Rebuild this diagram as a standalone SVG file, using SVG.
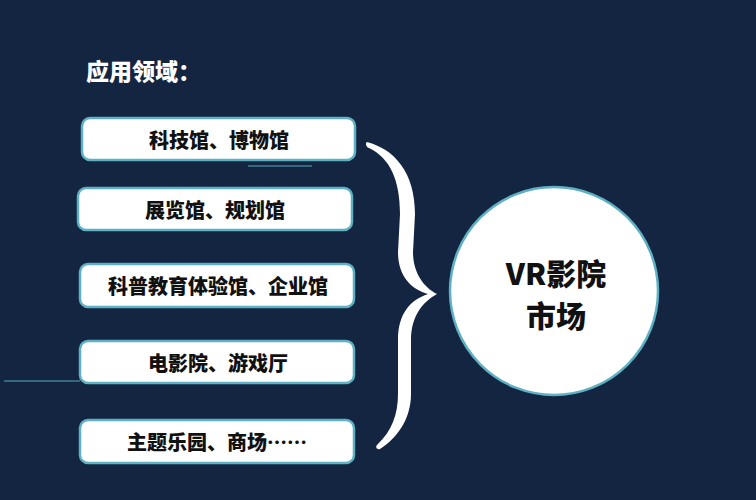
<svg xmlns="http://www.w3.org/2000/svg" width="756" height="500" viewBox="0 0 756 500">
  <style>
    .box { fill: #ffffff; stroke: #5eb0c3; stroke-width: 2.5; }
    .lbl { font-family: "Noto Sans CJK SC", "Liberation Sans", sans-serif; font-weight: 900; font-size: 20px; fill: #111111; text-anchor: middle; dominant-baseline: central; }
    .big { font-family: "Noto Sans CJK SC", "Liberation Sans", sans-serif; font-weight: 900; font-size: 30px; fill: #111111; text-anchor: middle; dominant-baseline: central; }
    .title { font-family: "Noto Sans CJK SC", "Liberation Sans", sans-serif; font-weight: 900; font-size: 23px; fill: #ffffff; dominant-baseline: central; }
    .faint { stroke: #3e7f96; stroke-width: 1.5; fill: none; }
  </style>
  <rect x="0" y="0" width="756" height="500" fill="#142541"/>

  <g id="title">
    <text class="title" x="86" y="70">应用领域：</text>
  </g>

  <g id="node1">
    <rect class="box" x="82" y="118" width="273" height="42" rx="8"/>
    <text class="lbl" x="219" y="139">科技馆、博物馆</text>
  </g>
  <g id="node2">
    <rect class="box" x="78" y="188" width="274" height="42" rx="8"/>
    <text class="lbl" x="215" y="209">展览馆、规划馆</text>
  </g>
  <g id="node3">
    <rect class="box" x="80" y="264" width="274" height="43" rx="8"/>
    <text class="lbl" x="218" y="285.5">科普教育体验馆、企业馆</text>
  </g>
  <g id="node4">
    <rect class="box" x="80" y="341" width="274" height="42" rx="8"/>
    <text class="lbl" x="218" y="362">电影院、游戏厅</text>
  </g>
  <g id="node5">
    <rect class="box" x="80" y="420" width="274" height="43" rx="8"/>
    <text class="lbl" x="217" y="441.5">主题乐园、商场……</text>
  </g>

  <g id="connectors">
    <line class="faint" x1="248" y1="166" x2="312" y2="166"/>
    <line class="faint" x1="4" y1="381" x2="80" y2="381"/>
    <path id="brace" fill="#ffffff" d="M367,142 C394,149 415,172 415,214 L413,252 C413,272 423,287 437,294 C424,301 411,315 411,340 L411,394 C411,420 396,439 380,449 C377,450 375,447 377,445 C392,431 398,414 398,394 L398,340 C398,314 410,300 428,294 C410,289 398,275 398,252 L400,214 C400,180 390,158 369,148 C366,147 365,143 367,142 Z"/>
  </g>

  <g id="center">
    <circle cx="554" cy="291" r="104" fill="#ffffff" stroke="#5eb0c3" stroke-width="2.5"/>
    <text class="big" x="556" y="272">VR影院</text>
    <text class="big" x="556" y="314">市场</text>
  </g>
</svg>
